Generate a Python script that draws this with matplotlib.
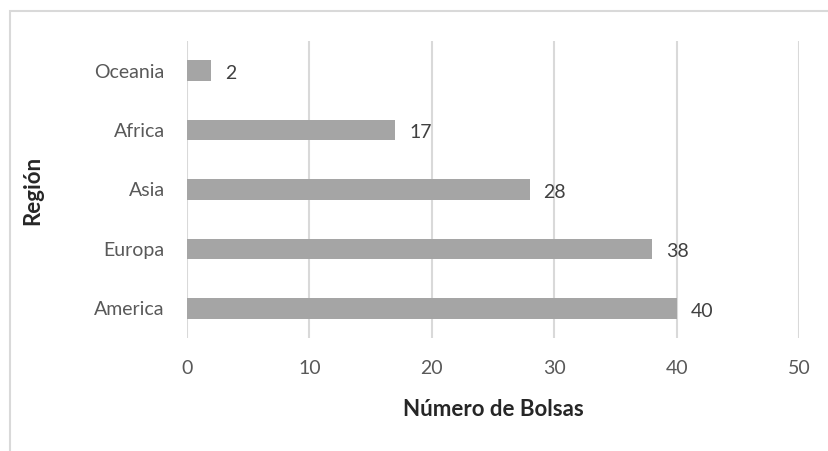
import matplotlib.pyplot as plt
from matplotlib.patches import Rectangle

# Data
regiones = ["America", "Europa", "Asia", "Africa", "Oceania"]
bolsas = [40, 38, 28, 17, 2]
x_ticks = [0, 10, 20, 30, 40, 50]

W, H = 829, 451
fig = plt.figure(figsize=(W / 100, H / 100), dpi=100)
plt.rcParams['font.family'] = ['Lato', 'DejaVu Sans']

# Outer chart border (only top and left visible)
fig.patches.append(Rectangle((10 / W, -0.1), 1.2, 1.1 - 11 / H, transform=fig.transFigure,
                             fill=False, edgecolor='#D9D9D9', linewidth=1.5))

ax = fig.add_axes([187 / W, 1 - 338 / H, (799 - 187) / W, (338 - 41) / H])
ax.barh(regiones, bolsas, height=0.35, color='#A5A5A5', zorder=3)

for i, v in enumerate(bolsas):
    ax.annotate(str(v), (v, i), xytext=(10, -2), textcoords='offset points',
                va='center', ha='left', fontsize=14, color='#404040')

ax.set_xlim(0, 50)
ax.set_ylim(-0.5, 4.5)
ax.set_xticks(x_ticks)
ax.grid(axis='x', color='#D9D9D9', linewidth=1.5, zorder=0)
for s in ax.spines.values():
    s.set_visible(False)
ax.tick_params(length=0, labelsize=14, labelcolor='#595959')
ax.tick_params(axis='x', pad=16)
ax.tick_params(axis='y', pad=16)

fig.text(493 / W, 1 - 410 / H, "Número de Bolsas", ha='center', va='center',
         fontsize=16, fontweight='bold', color='#262626')
fig.text(33 / W, 1 - 190 / H, "Región", ha='center', va='center', rotation=90,
         fontsize=16, fontweight='bold', color='#262626')

fig.savefig("out.png", dpi=100)
